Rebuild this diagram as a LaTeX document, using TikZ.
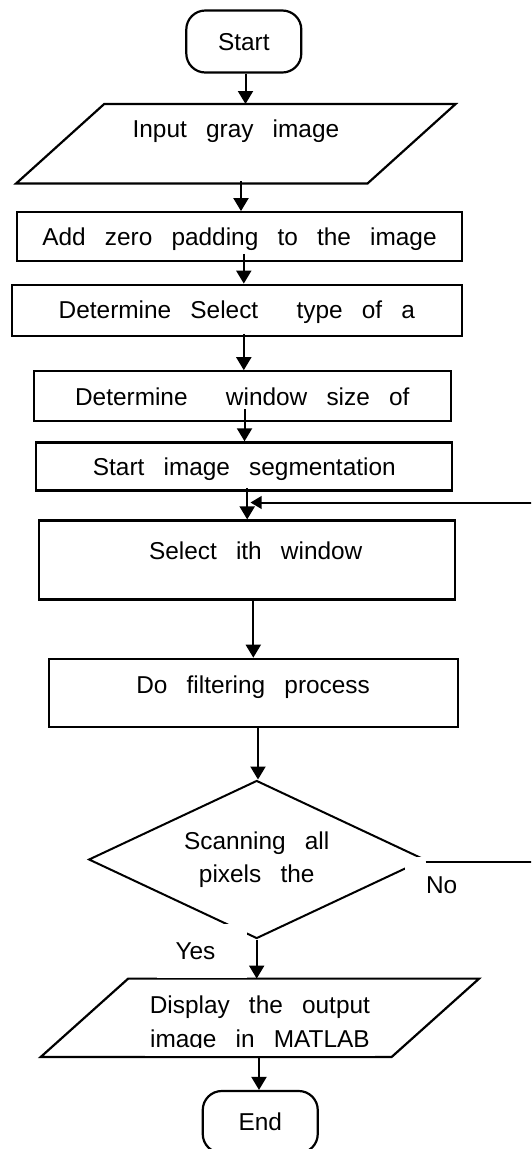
\documentclass[tikz,border=0pt]{standalone}
\usepackage{fontspec}
\setmainfont{Liberation Sans}[WordSpace=2.83]
\usetikzlibrary{arrows.meta,shapes.geometric}
\tikzset{
  every node/.style={font=\fontsize{24.4}{33.2}\selectfont, inner sep=0pt, text height=17.5pt, text depth=0pt},
  box/.style={draw, line width=2.2pt, rectangle},
  term/.style={draw, line width=2.2pt, rectangle, rounded corners=19pt, minimum width=115pt, minimum height=62pt},
  io/.style={rectangle, minimum width=439pt, minimum height=79pt},
  iodraw/.style={line width=2.2pt},
  arr/.style={line width=2pt, -{Triangle[width=15pt,length=13pt]}},
  arrs/.style={line width=2pt, -{Triangle[width=12.5pt,length=11pt]}},
  lbl/.style={fill=white},
}
\begin{document}
\begin{tikzpicture}[x=1pt,y=-1pt]
\useasboundingbox (0,0) rectangle (531,1149);
\fill[white] (0,0) rectangle (531,1149);
\clip (0,0) rectangle (531,1149);

% nodes
\node[term] (st) at (243.8,41.5) {Start};
\node[io, text depth=29.4pt] (in) at (235.9,143.7) {Input gray image};
\draw[iodraw] ([xshift=88pt]in.north west) -- (in.north east) -- ([xshift=-88pt]in.south east) -- (in.south west) -- cycle;
\node[box, minimum width=445pt, minimum height=49pt] (b1) at (239.5,236.7) {Add zero padding to the image};
\node[box, minimum width=450pt, minimum height=51pt] (b2) at (236.9,310.2) {Determine Select\ \ type of a};
\node[box, minimum width=417pt, minimum height=50pt] (b3) at (242.3,396.3) {Determine\ \ window size of};
\node[box, minimum width=416pt, minimum height=48pt] (b4) at (244.3,466.4) {Start image segmentation};
\node[box, minimum width=416pt, minimum height=79pt, text depth=19pt] (b5) at (246.9,560) {\hspace*{17.6pt}Select ith window};
\node[box, minimum width=409pt, minimum height=68pt, text depth=16.6pt] (b6) at (253.1,692.8) {Do filtering process};
\node[draw, diamond, aspect=2.127, line width=2pt, minimum width=336pt, minimum height=158pt, text height=46.5pt, text depth=0pt] (dm) at (256.7,859.5)
  {\begin{tabular}[b]{@{}c@{}}Scanning all\\pixels the\end{tabular}};
\node[io, minimum width=438pt, minimum height=78pt, text height=59.9pt, text depth=0pt] (out) at (259.9,1017.8)
  {\fontsize{24.4}{34.7}\selectfont\begin{tabular}[b]{@{}c@{}}Display the output\\image in MATLAB\end{tabular}};
\draw[iodraw] ([xshift=87.5pt]out.north west) -- (out.north east) -- ([xshift=-87.5pt]out.south east) -- (out.south west) -- cycle;
\fill[white] (145,1048.2) rectangle (375,1056);
\node[term] (en) at (260.25,1122) {End};

% labels with white background
\node[lbl, minimum width=90pt, minimum height=54pt] (yes) at (202,951) {\hspace*{-13pt}Yes};
\node[lbl, minimum width=73.4pt, minimum height=55.4pt] (no) at (441.7,884.7) {No};

% connectors
\draw[arr] ([xshift=1.7pt]st.south) -- ([xshift=1.7pt]st.south |- in.north);
\draw[arr] ([xshift=5.1pt,yshift=2pt]in.south) -- ([xshift=5.1pt]in.south |- b1.north);
\draw[arr] ([xshift=4.3pt,yshift=8.4pt]b1.south) -- ([xshift=4.3pt]b1.south |- b2.north);
\draw[arr] ([xshift=6.9pt,yshift=3pt]b2.south) -- ([xshift=6.9pt]b2.south |- b3.north);
\draw[arr] ([xshift=2.2pt,yshift=13pt]b3.south) -- ([xshift=2.2pt]b3.south |- b4.north);
\draw[arr] ([xshift=2.9pt,yshift=3.7pt]b4.south) -- ([xshift=2.9pt]b4.south |- b5.north);
\draw[arr] ([xshift=6.4pt]b5.south) -- ([xshift=6.4pt]b5.south |- b6.north);
\draw[arr] ([xshift=4.9pt]b6.south) -- ([xshift=4.9pt]b6.south |- dm.north);
\draw[arr] (dm.south) -- (dm.south |- out.north);
\draw[arr] ([xshift=-0.9pt]out.south) -- ([xshift=-0.9pt]out.south |- en.north);

% loop back (No)
\coordinate (rx) at (545,0);
\coordinate (fb) at (250.5,502.5);
\draw[arrs] ([yshift=-2.2pt]dm.east) -- ([yshift=-2.2pt]dm.east -| rx) |- (fb);
\end{tikzpicture}
\end{document}
